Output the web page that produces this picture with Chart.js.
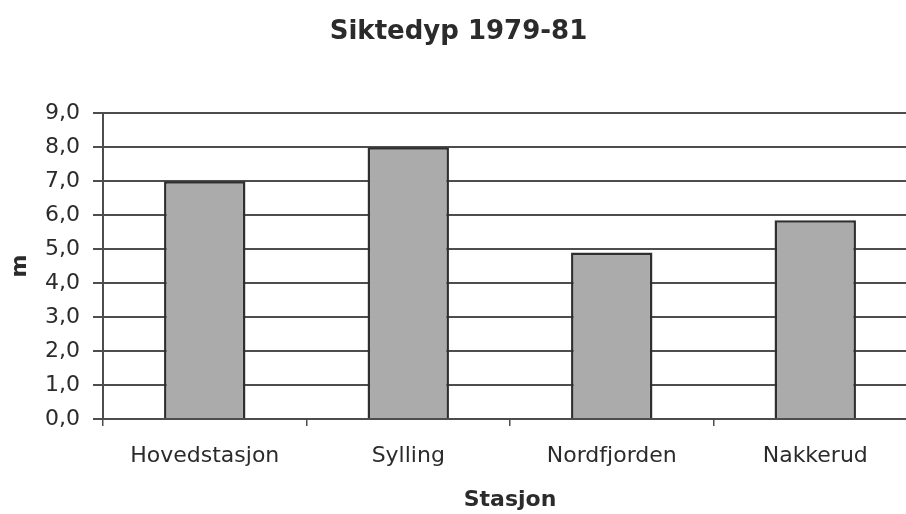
<!DOCTYPE html>
<html>
<head>
<meta charset="utf-8">
<script src="https://cdn.jsdelivr.net/npm/chart.js@4"></script>
<style>
  html, body { margin: 0; padding: 0; background: #fff; overflow: hidden; }
  #wrap { width: 906px; height: 514px; overflow: hidden; }
</style>
</head>
<body>
<div id="wrap"><canvas id="siktedyp" width="917" height="514"></canvas></div>
<script>
// stasjoner og siktedyp (m)
const stasjoner = ["Hovedstasjon", "Sylling", "Nordfjorden", "Nakkerud"];
const siktedyp = [7.0, 8.0, 4.9, 5.85];

const yMin = 0;
const yMax = 9;
const yStep = 1;

const tekst = "#2b2b2b";
const linje = "#4d4d4d";

new Chart(document.getElementById("siktedyp"), {
  type: "bar",
  data: {
    labels: stasjoner,
    datasets: [
      {
        data: siktedyp,
        backgroundColor: "#ababab",
        borderColor: "#2e2e2e",
        borderWidth: 2.5,
        barPercentage: 0.4,
        categoryPercentage: 1,
      },
    ],
  },
  options: {
    responsive: false,
    animation: false,
    layout: { padding: 0 },
    plugins: {
      legend: { display: false },
      tooltip: { enabled: false },
      title: {
        display: true,
        text: "Siktedyp 1979-81",
        color: tekst,
        font: { family: "DejaVu Sans", size: 26, weight: "bold" },
        padding: { top: 17, bottom: 65 },
      },
    },
    scales: {
      x: {
        grid: {
          offset: true,
          drawOnChartArea: false,
          drawTicks: true,
          tickLength: 7,
          color: linje,
          lineWidth: 1.5,
        },
        border: { color: linje, width: 2 },
        ticks: {
          color: tekst,
          padding: 17,
          font: { family: "DejaVu Sans", size: 22 },
          maxRotation: 0,
        },
        title: {
          display: true,
          text: "Stasjon",
          color: tekst,
          font: { family: "DejaVu Sans", size: 22, weight: "bold" },
          padding: { top: 0, bottom: 1 },
        },
        afterFit: (scale) => {
          scale.height = 95;
        },
      },
      y: {
        min: yMin,
        max: yMax,
        grid: {
          color: linje,
          lineWidth: 2,
          tickLength: 10,
        },
        border: { color: linje, width: 2 },
        ticks: {
          stepSize: yStep,
          color: tekst,
          padding: 13,
          font: { family: "DejaVu Sans", size: 22 },
          callback: (v) => v.toFixed(1).replace(".", ","),
        },
        title: {
          display: true,
          text: "m",
          color: tekst,
          font: { family: "DejaVu Sans", size: 22, weight: "bold" },
          padding: { top: 7, bottom: 0 },
        },
        afterFit: (scale) => {
          scale.width = 103;
        },
      },
    },
  },
});
</script>
</body>
</html>
